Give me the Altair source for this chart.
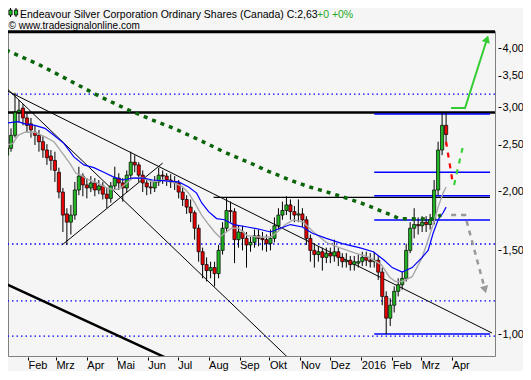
import altair as alt
import pandas as pd

# ---------------- data ----------------
bar_start = "2015-01-11"   # one candle every 4 calendar days
open_ = [2.38,2.46,2.62,2.93,2.99,2.85,2.77,2.66,2.62,2.54,
         2.44,2.37,2.32,2.19,1.99,1.79,1.72,1.78,2.01,2.15,
         2.06,2.03,2.08,2.01,2.05,1.97,1.93,2.05,2.13,2.08,
         2.03,2.16,2.30,2.27,2.16,2.08,2.04,2.03,2.09,2.16,
         2.15,2.11,2.09,2.08,1.99,1.92,1.85,1.80,1.67,1.49,
         1.40,1.36,1.38,1.34,1.50,1.67,1.82,1.81,1.58,1.64,
         1.59,1.54,1.56,1.61,1.59,1.58,1.55,1.59,1.69,1.78,
         1.82,1.87,1.81,1.78,1.79,1.74,1.59,1.50,1.47,1.49,
         1.45,1.48,1.46,1.49,1.45,1.42,1.43,1.40,1.41,1.42,
         1.45,1.43,1.42,1.43,1.35,1.20,1.08,1.15,1.23,1.27,
         1.31,1.50,1.67,1.70,1.69,1.72,1.70,1.74,2.01,2.44,
         2.75]
close = [2.46,2.62,2.93,2.96,2.85,2.75,2.69,2.62,2.54,2.44,
         2.35,2.32,2.21,1.99,1.78,1.72,1.78,2.01,2.15,2.06,
         2.03,2.08,2.01,2.05,1.97,1.93,2.05,2.13,2.08,2.03,
         2.16,2.30,2.27,2.16,2.08,2.04,2.03,2.09,2.16,2.15,
         2.11,2.09,2.08,1.99,1.92,1.85,1.80,1.67,1.49,1.40,
         1.36,1.38,1.34,1.50,1.67,1.82,1.81,1.58,1.64,1.59,
         1.54,1.56,1.61,1.59,1.58,1.55,1.59,1.69,1.78,1.82,
         1.87,1.81,1.78,1.79,1.74,1.59,1.50,1.47,1.49,1.45,
         1.48,1.46,1.49,1.45,1.42,1.43,1.40,1.42,1.42,1.45,
         1.43,1.42,1.43,1.35,1.20,1.08,1.15,1.23,1.27,1.31,
         1.50,1.67,1.70,1.69,1.72,1.70,1.74,2.01,2.44,2.75,
         2.63]
high = [2.56,2.71,3.22,3.11,3.05,2.93,2.85,2.75,2.69,2.61,
        2.51,2.44,2.42,2.24,2.03,1.84,1.87,2.09,2.25,2.18,
        2.13,2.15,2.13,2.11,2.09,2.03,2.09,2.25,2.18,2.13,
        2.21,2.42,2.38,2.30,2.21,2.13,2.11,2.15,2.24,2.21,
        2.18,2.17,2.15,2.11,2.03,1.96,1.92,1.82,1.70,1.52,
        1.45,1.42,1.42,1.54,1.72,1.94,1.90,1.84,1.69,1.69,
        1.64,1.60,1.66,1.66,1.64,1.62,1.66,1.76,1.84,1.90,
        1.95,1.92,1.86,1.92,1.84,1.77,1.62,1.55,1.53,1.52,
        1.52,1.52,1.58,1.52,1.48,1.48,1.46,1.46,1.47,1.49,
        1.49,1.48,1.49,1.46,1.38,1.23,1.19,1.26,1.31,1.35,
        1.55,1.72,1.84,1.76,1.77,1.77,1.79,2.11,2.54,2.92,
        2.92]
low = [2.32,2.42,2.59,2.79,2.75,2.66,2.59,2.50,2.42,2.35,
       2.27,2.21,2.09,1.93,1.64,1.54,1.62,1.74,1.96,1.95,
       1.93,1.99,1.95,1.97,1.92,1.84,1.89,2.01,2.01,1.90,
       1.99,2.11,2.19,2.09,1.99,1.96,1.97,1.99,2.05,2.07,
       2.05,2.03,2.01,1.93,1.86,1.79,1.72,1.58,1.42,1.31,
       1.29,1.31,1.26,1.31,1.47,1.64,1.72,1.41,1.52,1.50,
       1.38,1.49,1.52,1.53,1.50,1.49,1.50,1.56,1.66,1.74,
       1.78,1.74,1.72,1.72,1.68,1.54,1.42,1.38,1.42,1.36,
       1.41,1.41,1.42,1.39,1.38,1.38,1.36,1.36,1.38,1.39,
       1.39,1.38,1.38,1.30,1.15,1.00,1.04,1.11,1.20,1.24,
       1.29,1.48,1.59,1.62,1.64,1.64,1.66,1.70,1.96,2.38,
       2.50]

blue_dates = ["2015-01-11","2015-01-22","2015-01-29","2015-02-08","2015-02-18","2015-02-27",
              "2015-03-09","2015-03-19","2015-03-29","2015-04-08","2015-04-18","2015-04-28",
              "2015-05-07","2015-05-17","2015-05-27","2015-06-06","2015-06-19","2015-07-02",
              "2015-07-12","2015-07-20","2015-07-25","2015-08-01","2015-08-09","2015-08-17",
              "2015-08-26","2015-09-09","2015-09-22","2015-10-02","2015-10-12","2015-10-22",
              "2015-11-03","2015-11-13","2015-11-27","2015-12-13","2015-12-30","2016-01-13",
              "2016-01-24","2016-02-01","2016-02-11","2016-02-21","2016-03-02","2016-03-08",
              "2016-03-13","2016-03-18","2016-03-23","2016-03-26"]
blue_ma = [2.78,2.80,2.77,2.75,2.71,2.62,2.52,2.36,2.27,2.24,
           2.19,2.14,2.11,2.13,2.13,2.11,2.10,2.09,2.04,1.98,
           1.89,1.81,1.75,1.74,1.70,1.68,1.66,1.64,1.67,1.70,
           1.68,1.63,1.59,1.55,1.52,1.49,1.43,1.38,1.35,1.38,
           1.45,1.50,1.63,1.74,1.80,1.85]

gray_dates = ["2015-01-11","2015-01-17","2015-01-22","2015-01-29","2015-02-08","2015-02-18",
              "2015-02-27","2015-03-04","2015-03-09","2015-03-16","2015-03-21","2015-03-26",
              "2015-04-03","2015-04-11","2015-04-21","2015-04-28","2015-05-05","2015-05-11",
              "2015-05-17","2015-05-27","2015-06-06","2015-06-16","2015-06-26","2015-07-06",
              "2015-07-12","2015-07-18","2015-07-25","2015-08-01","2015-08-07","2015-08-12",
              "2015-08-17","2015-08-24","2015-08-31","2015-09-09","2015-09-22","2015-10-02",
              "2015-10-09","2015-10-17","2015-10-25","2015-11-04","2015-11-14","2015-11-27",
              "2015-12-10","2015-12-26","2016-01-09","2016-01-21","2016-01-29","2016-02-04",
              "2016-02-11","2016-02-21","2016-03-02","2016-03-08","2016-03-13","2016-03-18",
              "2016-03-23","2016-03-26"]
gray_ma = [2.50,2.52,2.62,2.66,2.66,2.60,2.54,2.46,2.38,2.27,
           2.18,2.16,2.11,2.08,2.03,2.01,2.03,2.08,2.13,2.13,
           2.09,2.11,2.09,2.04,1.98,1.89,1.78,1.70,1.64,1.60,
           1.63,1.67,1.67,1.61,1.60,1.60,1.64,1.70,1.74,1.72,
           1.64,1.56,1.52,1.48,1.45,1.40,1.32,1.29,1.29,1.32,
           1.45,1.58,1.70,1.85,1.98,2.04]

green_dates = ["2015-01-10","2015-02-11","2015-03-12","2015-04-13","2015-05-13","2015-06-06",
               "2015-06-29","2015-07-23","2015-08-16","2015-09-14","2015-09-30","2015-10-24",
               "2015-11-10","2015-11-28","2015-12-18","2016-01-03","2016-01-31","2016-02-08",
               "2016-03-11","2016-03-21"]
green_ma = [3.96,3.70,3.44,3.17,2.96,2.82,2.70,2.56,2.42,2.28,
            2.20,2.10,2.04,1.99,1.93,1.88,1.78,1.75,1.745,1.78]

# horizontal levels
top_level = 4.33
black_full_level = 2.925
dotted_levels = [3.20, 1.547, 1.174, 0.99]
black_level = 1.94
black_level_from = "2015-08-06"
blue_levels = [2.905, 2.19, 1.955, 1.738, 1.00]
blue_levels_from = "2016-01-14"
domain_start = "2015-01-17"
domain_end = "2016-05-09"

# trend lines
tl_start_date = ["2015-01-10", "2015-01-10", "2015-01-10", "2015-03-07"]
tl_end_date = ["2016-05-11", "2015-10-22", "2015-06-24", "2015-06-16"]
tl_start_price = [3.26, 3.30, 1.274, 1.539]
tl_end_price = [1.005, 0.882, 0.882, 2.29]
tl_width = [1, 1, 2.5, 1]

# projections
red_dates = ["2016-03-26", "2016-04-02"]
red_prices = [2.54, 2.06]
lgreen_dates = ["2016-04-03", "2016-04-12"]
lgreen_prices = [2.06, 2.49]
gray_proj_dates = ["2016-03-31", "2016-04-14", "2016-05-04"]
gray_proj_prices = [1.78, 1.78, 1.24]
up_dates = ["2016-03-31", "2016-04-14", "2016-05-06"]
up_prices = [2.99, 2.99, 4.18]

title_main = "Endeavour Silver Corporation Ordinary Shares (Canada) C:2,63"
title_change = "+0 +0%"
source = "© www.tradesignalonline.com"

month_names = ['Jan', 'Feb', 'Mrz', 'Apr', 'Mai', 'Jun', 'Jul', 'Aug', 'Sep', 'Okt', 'Nov', 'Dez']
y_ticks = [1.0, 1.5, 2.0, 2.5, 3.0, 3.5, 4.0]

# ---------------- helpers ----------------
def t(d):
    return d + "T00:00:00"


def dt(d):
    y, m, dd = (int(v) for v in d.split("-"))
    return alt.DateTime(year=y, month=m, date=dd)


n = len(close)
bar_dates = list(pd.date_range(bar_start, periods=n, freq="4D").strftime("%Y-%m-%dT00:00:00"))
candles = pd.DataFrame({"date": bar_dates, "open": open_, "high": high, "low": low, "close": close})

FONT = "Liberation Sans"
xscale = alt.Scale(domain=[dt(domain_start), dt(domain_end)])
yscale = alt.Scale(type="log", domain=[0.899, 4.344], nice=False)

tick_vals = []
for yy, mm in [(2015, m) for m in range(2, 13)] + [(2016, m) for m in range(1, 5)]:
    tick_vals.append(alt.DateTime(year=yy, month=mm, date=1))

names_js = "[" + ",".join("'%s'" % m for m in month_names) + "]"
xaxis = alt.Axis(values=tick_vals,
                 labelExpr="month(datum.value) == 0 ? '' + year(datum.value) : " + names_js + "[month(datum.value)]",
                 domain=False, grid=False, tickSize=3, offset=1, tickColor="#000",
                 labelAlign="left", labelBaseline="top", labelPadding=-1,
                 labelFont=FONT, labelFontSize=11, labelColor="#000", title=None,
                 labelOverlap=False, labelFlush=False, labelBound=False)
yaxis = alt.Axis(orient="right", values=y_ticks,
                 labelExpr="replace(format(datum.value, '.2f'), '.', ',')",
                 domain=False, grid=False, tickSize=3, offset=3, tickColor="#000",
                 labelPadding=1, labelFont=FONT, labelFontSize=11, labelColor="#000",
                 title=None, labelOverlap=False, labelFlush=False, labelBound=False)


def X(field="date"):
    return alt.X(f"{field}:T", scale=xscale, axis=xaxis, title=None)


def Y(field="price"):
    return alt.Y(f"{field}:Q", scale=yscale, axis=yaxis, title=None)


one = pd.DataFrame({"k": [0]})

# ---------------- layers ----------------
dotted = alt.Chart(pd.DataFrame({"price": dotted_levels})).mark_rule(
    color="#0000ff", strokeWidth=1.3, strokeDash=[1.5, 3]).encode(y=Y())

full_black = alt.Chart(pd.DataFrame({"price": [black_full_level]})).mark_rule(
    color="#000", strokeWidth=2.5).encode(y=Y())

black_seg = alt.Chart(pd.DataFrame({"date": [t(black_level_from)], "end": [t(domain_end)],
                                    "price": [black_level]})).mark_rule(
    color="#000", strokeWidth=1.3).encode(x=X(), x2="end:T", y=Y())

blue_segs = alt.Chart(pd.DataFrame({"date": [t(blue_levels_from)] * len(blue_levels),
                                    "end": [t(domain_end)] * len(blue_levels),
                                    "price": blue_levels})).mark_rule(
    color="#0000ff", strokeWidth=1.5).encode(x=X(), x2="end:T", y=Y())

trend = alt.Chart(pd.DataFrame({"date": [t(d) for d in tl_start_date],
                                "end": [t(d) for d in tl_end_date],
                                "p1": tl_start_price, "p2": tl_end_price,
                                "w": tl_width})).mark_rule(color="#000", clip=True).encode(
    x=X(), x2="end:T", y=Y("p1"), y2="p2:Q",
    strokeWidth=alt.StrokeWidth("w:Q", scale=None))

wicks = alt.Chart(candles).mark_rule(color="#000", strokeWidth=1, clip=True).encode(
    x=X(), y=Y("low"), y2="high:Q")
bodies = alt.Chart(candles).mark_bar(size=3.2, stroke="#000", strokeWidth=0.7, clip=True).encode(
    x=X(), y=Y("open"), y2="close:Q",
    color=alt.condition("datum.close >= datum.open", alt.value("#22b422"), alt.value("#e60000")))

blue_line = alt.Chart(pd.DataFrame({"date": [t(d) for d in blue_dates], "price": blue_ma})).mark_line(
    color="#0000ff", strokeWidth=1.2, clip=True).encode(x=X(), y=Y())
gray_line = alt.Chart(pd.DataFrame({"date": [t(d) for d in gray_dates], "price": gray_ma})).mark_line(
    color="#a8a8a8", strokeWidth=1.4, clip=True).encode(x=X(), y=Y())
green_line = alt.Chart(pd.DataFrame({"date": [t(d) for d in green_dates], "price": green_ma})).mark_line(
    color="#0a640a", strokeWidth=3.5, strokeDash=[4, 5], clip=True).encode(x=X(), y=Y())

red_proj = alt.Chart(pd.DataFrame({"date": [t(d) for d in red_dates], "price": red_prices})).mark_line(
    color="#ff0000", strokeWidth=2.2, strokeDash=[5, 6]).encode(x=X(), y=Y())
lgreen_proj = alt.Chart(pd.DataFrame({"date": [t(d) for d in lgreen_dates], "price": lgreen_prices})).mark_line(
    color="#3ad23a", strokeWidth=2.2, strokeDash=[5, 6]).encode(x=X(), y=Y())
gray_proj = alt.Chart(pd.DataFrame({"date": [t(d) for d in gray_proj_dates], "price": gray_proj_prices})).mark_line(
    color="#999999", strokeWidth=2.5, strokeDash=[5, 5]).encode(x=X(), y=Y())
up_proj = alt.Chart(pd.DataFrame({"date": [t(d) for d in up_dates], "price": up_prices})).mark_line(
    color="#33cc33", strokeWidth=2).encode(x=X(), y=Y())

up_head = alt.Chart(pd.DataFrame({"date": [t(up_dates[-1])], "price": [up_prices[-1]]})).mark_point(
    shape="triangle-up", filled=True, size=70, color="#33cc33", angle=19, opacity=1).encode(x=X(), y=Y())
gray_head = alt.Chart(pd.DataFrame({"date": [t(gray_proj_dates[-1])], "price": [gray_proj_prices[-1]]})).mark_point(
    shape="triangle-down", filled=True, size=70, color="#999999", angle=344, opacity=1).encode(x=X(), y=Y())

top_line = alt.Chart(pd.DataFrame({"price": [top_level]})).mark_rule(
    color="#000", strokeWidth=3).encode(y=Y())

# small candlestick icon in front of the title
icon_layers = []
for cx in (2.5, 8.0):
    icon_layers.append(alt.Chart(one).mark_rule(color="#000", strokeWidth=1).encode(
        x=alt.value(cx), y=alt.value(-23), y2=alt.value(-14)))
    icon_layers.append(alt.Chart(one).mark_rect(color="#22c022", stroke="#000", strokeWidth=0.8).encode(
        x=alt.value(cx - 1.6), x2=alt.value(cx + 1.6), y=alt.value(-21), y2=alt.value(-16)))

txt_main = alt.Chart(pd.DataFrame({"t": [title_main]})).mark_text(
    align="left", baseline="alphabetic", font=FONT, fontSize=10.5, color="#000").encode(
    text="t:N", x=alt.value(12), y=alt.value(-13))
txt_change = alt.Chart(pd.DataFrame({"t": [title_change]})).mark_text(
    align="left", baseline="alphabetic", font=FONT, fontSize=10.5, color="#22aa22").encode(
    text="t:N", x=alt.value(309), y=alt.value(-13))
txt_source = alt.Chart(pd.DataFrame({"t": [source]})).mark_text(
    align="left", baseline="alphabetic", font=FONT, fontSize=10, color="#000").encode(
    text="t:N", x=alt.value(0.5), y=alt.value(-2))

chart = alt.layer(
    dotted, full_black, black_seg, blue_segs, trend,
    wicks, bodies, gray_line, blue_line, green_line,
    red_proj, lgreen_proj, gray_proj, up_proj, up_head, gray_head,
    top_line, *icon_layers, txt_main, txt_change, txt_source
).properties(
    width=487, height=325, background="#f5f5f5",
    padding={"left": 0, "top": 23, "right": 28, "bottom": 15},
    autosize=alt.AutoSizeParams(type="none")
).configure_view(stroke="#808080", strokeWidth=1)

chart.save("out.html", embed_options={"renderer": "svg", "actions": False})
